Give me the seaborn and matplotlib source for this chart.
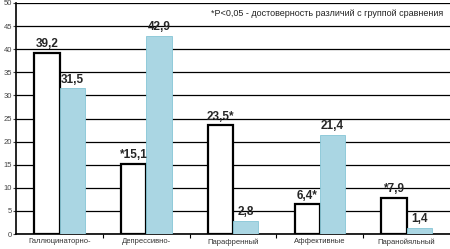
import pandas as pd
import matplotlib.pyplot as plt
import seaborn as sns

# Data
categories = ['Галлюцинаторно-', 'Депрессивно-', 'Парафренный', 'Аффективные', 'Паранойяльный']
main_group = [39.2, 15.1, 23.5, 6.4, 7.9]
comparison_group = [31.5, 42.9, 2.8, 21.4, 1.4]
main_labels = ['39,2', '*15,1', '23,5*', '6,4*', '*7,9']
comparison_labels = ['31,5', '42,9', '2,8', '21,4', '1,4']

df = pd.DataFrame({
    'category': categories * 2,
    'value': main_group + comparison_group,
    'group': ['main'] * len(categories) + ['comparison'] * len(categories),
})

sns.set_style('white')
plt.rcParams['font.family'] = ['Liberation Sans', 'DejaVu Sans']

fig = plt.figure(figsize=(4.5, 2.49), dpi=100)
ax = fig.add_axes([0.036, 0.06, 0.964, 0.928])

sns.barplot(data=df, x='category', y='value', hue='group',
            palette={'main': 'white', 'comparison': '#a0dcec'},
            width=0.58, ax=ax, legend=False, zorder=3)

# edges: thick black for main group, thin light for comparison group
for bars, ec, lw in zip(ax.containers, ['black', '#86c6d6'], [1.6, 0.6]):
    for b in bars:
        b.set_edgecolor(ec)
        b.set_linewidth(lw)

for bars, labels in zip(ax.containers, [main_labels, comparison_labels]):
    ax.bar_label(bars, labels=labels, padding=2, fontsize=8.5, fontweight='bold')

ax.set_ylim(0, 50)
ax.set_yticks(range(0, 51, 5))
ax.yaxis.grid(True, color='black', linewidth=0.9)
ax.set_axisbelow(True)
ax.set_xlabel('')
ax.set_ylabel('')
ax.tick_params(axis='y', labelsize=5.5, colors='#444444', length=2, pad=1, left=True)
ax.tick_params(axis='x', which='major', labelsize=5.5, colors='#333333', length=0, pad=3)
# small separator ticks between categories
ax.set_xticks([0.5, 1.5, 2.5, 3.5], minor=True)
ax.tick_params(axis='x', which='minor', bottom=True, length=3, width=0.8,
               color='black', direction='out')
ax.set_xlim(-0.5, 4.5)

for s in ['top', 'right']:
    ax.spines[s].set_visible(False)
ax.spines['left'].set_color('black')
ax.spines['bottom'].set_color('black')
ax.spines['left'].set_linewidth(1.2)
ax.spines['bottom'].set_linewidth(1.2)

ax.text(0.985, 0.955, '*P<0,05 - достоверность различий с группой сравнения',
        transform=ax.transAxes, ha='right', va='center', fontsize=6.5, color='#222222')

plt.savefig('out.png', dpi=100)
plt.close()
